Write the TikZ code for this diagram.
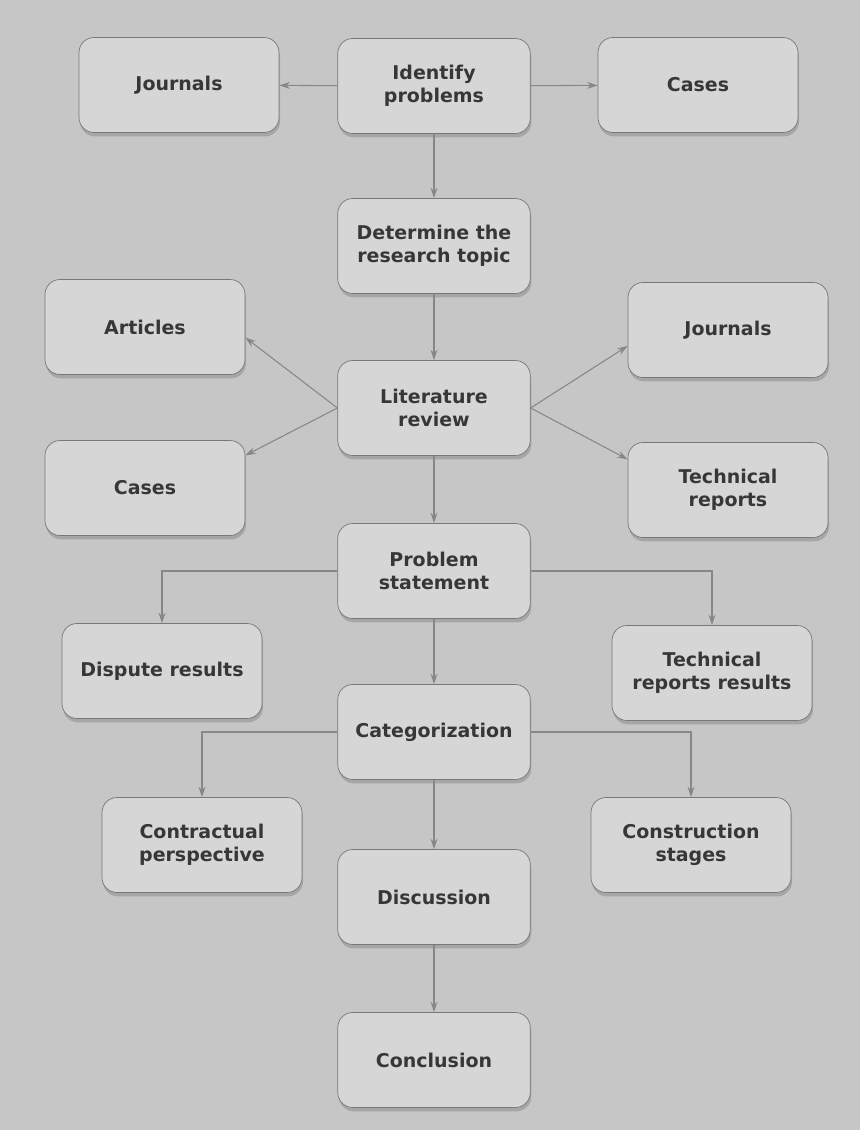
\documentclass[tikz,border=0pt]{standalone}
\usepackage{fontspec}
\setmainfont{DejaVu Sans}
\usetikzlibrary{arrows.meta,shadows}
\definecolor{bgcol}{RGB}{198,198,198}
\definecolor{boxcol}{RGB}{214,214,214}
\definecolor{edgecol}{RGB}{120,120,120}
\definecolor{txtcol}{RGB}{55,55,55}
\definecolor{linecol}{RGB}{135,135,135}
\tikzset{
  stage/.style={draw=edgecol, fill=boxcol, rounded corners=0.3cm, minimum width=3.85cm,
    minimum height=1.9cm, align=center, text=txtcol, font=\bfseries\fontsize{10.8}{13}\selectfont,
    drop shadow={shadow xshift=0.6pt, shadow yshift=-2.2pt, opacity=0.45}},
  side/.style={stage, minimum width=4cm},
  link/.style={draw=linecol, line width=0.6pt, -{Stealth[length=6pt,width=4pt]}}
}
\begin{document}
\begin{tikzpicture}
  \fill[bgcol] (0,0) rectangle (17.2,-22.6);
  \useasboundingbox (0,0) rectangle (17.2,-22.6);

  \node[side] (jourtop) at (3.58,-1.70) {Journals};
  \node[stage] (ident) at (8.68,-1.72) {Identify\\problems};
  \node[side] (casetop) at (13.96,-1.70) {Cases};
  \node[stage] (topic) at (8.68,-4.92) {Determine the\\research topic};
  \node[side] (articles) at (2.90,-6.54) {Articles};
  \node[side] (jourright) at (14.56,-6.60) {Journals};
  \node[stage] (litrev) at (8.68,-8.16) {Literature\\review};
  \node[side] (caseleft) at (2.90,-9.76) {Cases};
  \node[side] (techrep) at (14.56,-9.80) {Technical\\reports};
  \node[stage] (probstat) at (8.68,-11.42) {Problem\\statement};
  \node[side] (dispres) at (3.24,-13.42) {Dispute results};
  \node[side] (techres) at (14.24,-13.46) {Technical\\reports results};
  \node[stage] (categ) at (8.68,-14.64) {Categorization};
  \node[side] (contract) at (4.04,-16.90) {Contractual\\perspective};
  \node[side] (construct) at (13.82,-16.90) {Construction\\stages};
  \node[stage] (discuss) at (8.68,-17.94) {Discussion};
  \node[stage] (concl) at (8.68,-21.20) {Conclusion};

  \draw[link] (ident) -- (jourtop);
  \draw[link] (ident) -- (casetop);
  \draw[link] (ident) -- (topic);
  \draw[link] (topic) -- (litrev);
  \draw[link] (litrev.west) -- (articles.-6);
  \draw[link] (litrev.west) -- (caseleft.18);
  \draw[link] (litrev.east) -- (jourright.189);
  \draw[link] (litrev.east) -- (techrep.163);
  \draw[link] (litrev) -- (probstat);
  \draw[link] (probstat.west) -| (dispres.north);
  \draw[link] (probstat.east) -| (techres.north);
  \draw[link] (probstat) -- (categ);
  \draw[link] (categ.west) -| (contract.north);
  \draw[link] (categ.east) -| (construct.north);
  \draw[link] (categ) -- (discuss);
  \draw[link] (discuss) -- (concl);
\end{tikzpicture}
\end{document}
